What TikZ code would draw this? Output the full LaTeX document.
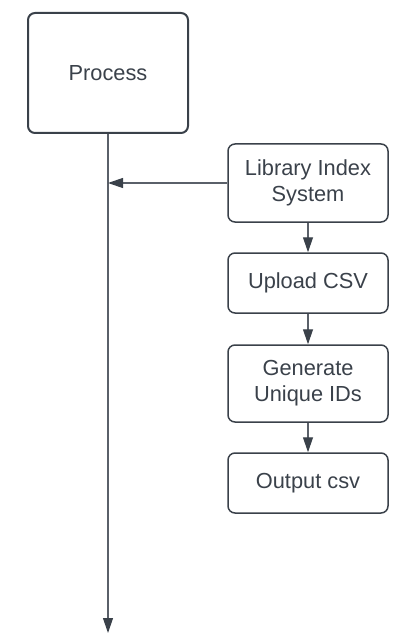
\documentclass[tikz,border=0pt]{standalone}
\usepackage{fontspec}
\setmainfont{Liberation Sans}
\usetikzlibrary{arrows.meta}

\definecolor{boxline}{HTML}{3A414A}
\definecolor{wireline}{HTML}{5A6069}

\tikzset{
	procbox/.style={draw=boxline, line width=1pt, rounded corners=3.5pt, minimum width=80pt, minimum height=60pt, text=boxline, font=\fontsize{10.9}{13}\selectfont},
	stepbox/.style={draw=boxline, line width=0.75pt, rounded corners=3.5pt, minimum width=80pt, text=boxline, align=center, font=\fontsize{10.9}{13}\selectfont},
	wire/.style={draw=wireline, line width=0.6pt, -{Triangle[length=7.5pt,width=5pt]}, arrows={[color=boxline]}}
}

\begin{document}
\begin{tikzpicture}[x=0.5pt,y=-0.5pt]
	\useasboundingbox (0,0) rectangle (412,636);
	
	%main process
	\node[procbox] (process) at (108,73) {Process};
	\coordinate (bottom) at (108,633);
	
	%steps
	\node[stepbox, minimum height=39pt] (library) at (308,183) {Library Index\\System};
	\node[stepbox, minimum height=30pt] (upload) at (308,283) {Upload CSV};
	\node[stepbox, minimum height=38.5pt] (generate) at (308,383.5) {Generate\\Unique IDs};
	\node[stepbox, minimum height=30pt] (output) at (308,483) {Output csv};
	
	%arrows
	\draw[wire] (process.south) -- (bottom);		%down the left
	\draw[wire] (library.west) -- (process.south |- library.west);	%into the line
	\draw[wire] (library) -- (upload);
	\draw[wire] (upload) -- (generate);
	\draw[wire] (generate) -- (output);
\end{tikzpicture}
\end{document}
